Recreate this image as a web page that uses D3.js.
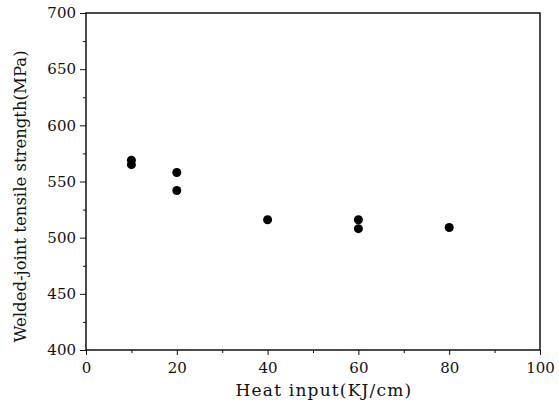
<!DOCTYPE html>
<html>
<head>
<meta charset="utf-8">
<script src="https://cdn.jsdelivr.net/npm/d3@7"></script>
<style>
  body { margin: 0; background: #fff; }
  text { font-family: "DejaVu Serif", "Liberation Serif", serif; fill: #111; }
</style>
</head>
<body>
<svg id="chart"></svg>
<script>
const heatInput = [10, 10, 20, 20, 40, 60, 60, 80];
const tensileStrength = [569, 565, 558, 542, 516, 516, 508, 509];
const xTicks = [0, 20, 40, 60, 80, 100];
const yTicks = [400, 450, 500, 550, 600, 650, 700];
const xMinorTicks = [10, 30, 50, 70, 90];
const yMinorTicks = [425, 475, 525, 575, 625, 675];

const width = 559,
  height = 406;
const margin = { top: 13, right: 19, bottom: 56, left: 86 };

const svg = d3.select("#chart").attr("width", width).attr("height", height);

const x = d3.scaleLinear().domain([0, 100]).range([margin.left, width - margin.right]);
const y = d3.scaleLinear().domain([400, 700]).range([height - margin.bottom, margin.top]);

// frame
svg
  .append("rect")
  .attr("x", x(0))
  .attr("y", y(700))
  .attr("width", x(100) - x(0))
  .attr("height", y(400) - y(700))
  .attr("fill", "none")
  .attr("stroke", "#111")
  .attr("stroke-width", 1.5);

// major axes
svg
  .append("g")
  .attr("transform", `translate(0,${y(400)})`)
  .call(d3.axisBottom(x).tickValues(xTicks).tickSize(5).tickPadding(7));
svg
  .append("g")
  .attr("transform", `translate(${x(0)},0)`)
  .call(d3.axisLeft(y).tickValues(yTicks).tickSize(6).tickPadding(4));

// minor ticks
svg
  .append("g")
  .attr("transform", `translate(0,${y(400)})`)
  .call(d3.axisBottom(x).tickValues(xMinorTicks).tickSize(3).tickFormat(""));
svg
  .append("g")
  .attr("transform", `translate(${x(0)},0)`)
  .call(d3.axisLeft(y).tickValues(yMinorTicks).tickSize(3).tickFormat(""));

svg.selectAll(".domain").remove();
svg.selectAll(".tick line").attr("stroke", "#111");
svg.selectAll(".tick text").style("font-size", "15px").attr("fill", "#111");

// points
svg
  .append("g")
  .selectAll("circle")
  .data(heatInput.map((d, i) => [d, tensileStrength[i]]))
  .join("circle")
  .attr("cx", (d) => x(d[0]))
  .attr("cy", (d) => y(d[1]))
  .attr("r", 4.5)
  .attr("fill", "#000");

// axis titles
svg
  .append("text")
  .attr("x", (x(0) + x(100)) / 2 + 11)
  .attr("y", 396)
  .attr("text-anchor", "middle")
  .style("font-size", "17px")
  .style("letter-spacing", "1.2px")
  .text("Heat input(KJ/cm)");

svg
  .append("text")
  .attr("transform", `translate(26,${(y(400) + y(700)) / 2 + 15}) rotate(-90)`)
  .attr("text-anchor", "middle")
  .style("font-size", "16.5px")
  .text("Welded-joint tensile strength(MPa)");
</script>
</body>
</html>
